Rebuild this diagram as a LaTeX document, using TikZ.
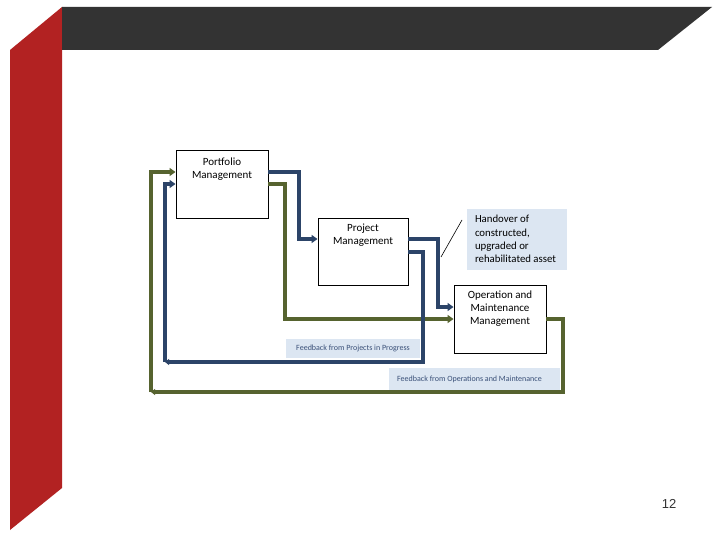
\documentclass[tikz,border=0pt]{standalone}
\usepackage{fontspec}
\setmainfont{Carlito}
\newfontfamily\numfont{Liberation Sans}
\usetikzlibrary{arrows.meta}
\definecolor{dkblue}{HTML}{2C4468}
\definecolor{olivec}{HTML}{56632F}
\definecolor{lblue}{HTML}{DCE6F2}
\definecolor{redband}{HTML}{B22222}
\definecolor{barc}{HTML}{333333}
\definecolor{fbtext}{HTML}{3A5078}
\begin{document}
\begin{tikzpicture}[x=1pt,y=-1pt,
  box/.style={draw=black, line width=0.9pt, fill=white, inner sep=0pt},
  lbl/.style={font=\fontsize{11}{13}\selectfont, align=center, inner sep=0pt},
  fb/.style={fill=lblue, inner sep=0pt, font=\fontsize{8}{9}\selectfont, text=fbtext},
  bl/.style={draw=dkblue, line width=3.2pt, line join=miter},
  gr/.style={draw=olivec, line width=3.2pt, line join=miter},
  tip/.style={-{Triangle[width=8pt,length=6pt]}},
  smalltip/.style={-{Triangle[width=6pt,length=4pt]}}]
\useasboundingbox (0,0) rectangle (720,540);
\fill[white] (0,0) rectangle (720,540);
\fill[redband] (10,50) -- (62,7) -- (62,488) -- (10,530) -- cycle;
\fill[barc] (62,7) -- (712,7) -- (658,50) -- (62,50) -- cycle;

% boxes
\node[box, minimum width=92pt, minimum height=68pt] (port) at (222,184) {};
\node[lbl, anchor=north] (porttxt) at ([yshift=-8.5pt]port.north) {Portfolio\\Management};
\node[box, minimum width=90pt, minimum height=67pt] (proj) at (363,251.5) {};
\node[lbl, anchor=north] (projtxt) at ([yshift=-6.5pt]proj.north) {Project\\Management};
\node[box, minimum width=92pt, minimum height=68pt] (om) at (500,319) {};
\node[lbl, anchor=north] (omtxt) at ([yshift=-6pt]om.north) {Operation and\\Maintenance\\Management};
\node[fill=lblue, minimum width=100pt, minimum height=61pt, inner sep=0pt] (hand) at (517,239.5) {};
\node[lbl, align=left, anchor=north west, font=\fontsize{10.8}{13.3}\selectfont] (handtxt) at ([xshift=8pt,yshift=-6.5pt]hand.north west) {Handover of\\constructed,\\upgraded or\\rehabilitated asset};
\coordinate (s1) at (441,257);
\coordinate (s2) at (462,220);
\draw[line width=0.6pt] (s1) -- (s2);

\node[fb, minimum width=134pt, minimum height=19pt] (fb1) at (353,348.5) {Feedback from Projects in Progress};
\node[fb, minimum width=171pt, minimum height=23pt] (fb2) at (474.5,379.5) {\hspace*{-10pt}\raisebox{1.5pt}{Feedback from Operations and Maintenance}};

% connectors
\draw[bl,tip] ([yshift=12pt]port.east) -- (299,172) -- (299,239) -- ([yshift=12.5pt]proj.west);
\draw[gr,tip] (port.east) -- (285,184) -- (285,319) -- (om.west);
\draw[bl,tip] ([yshift=12.5pt]proj.east) -- (438,239) -- (438,307) -- ([yshift=12pt]om.west);
\coordinate (bc) at (165,362);
\draw[bl,smalltip] ([yshift=-0.5pt]proj.east) -- (423,252) -- (423,362) -- (bc);
\draw[bl,tip] (bc) -- (165,184) -- (port.west);
\coordinate (gc) at (151,392);
\draw[gr,smalltip] (om.east) -- (563,319) -- (563,392) -- (gc);
\draw[gr,tip] (gc) -- (151,172) -- ([yshift=12pt]port.west);

\node[font=\numfont\fontsize{13}{15}\selectfont, text=black!80] (pg) at (669,504) {12};
\end{tikzpicture}
\end{document}
